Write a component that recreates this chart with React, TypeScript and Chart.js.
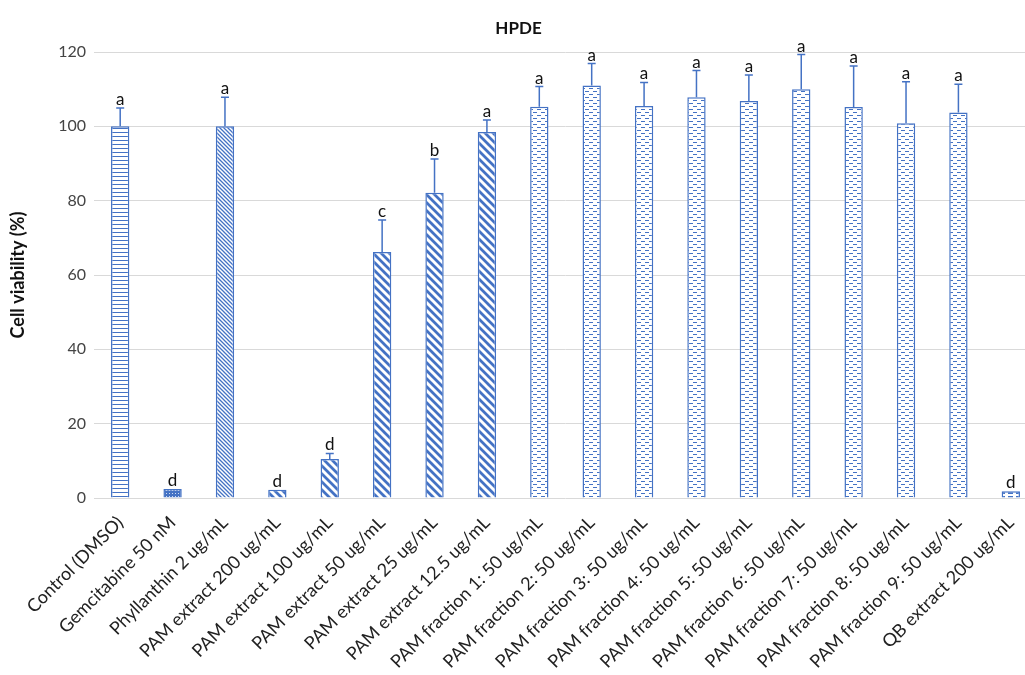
import React, { useEffect, useRef } from "react";
import { Chart, registerables } from "chart.js";

Chart.register(...registerables);

const categories = [
  "Control (DMSO)",
  "Gemcitabine 50 nM",
  "Phyllanthin 2 ug/mL",
  "PAM extract 200 ug/mL",
  "PAM extract 100 ug/mL",
  "PAM extract 50 ug/mL",
  "PAM extract 25 ug/mL",
  "PAM extract 12.5 ug/mL",
  "PAM fraction 1: 50 ug/mL",
  "PAM fraction 2: 50 ug/mL",
  "PAM fraction 3: 50 ug/mL",
  "PAM fraction 4: 50 ug/mL",
  "PAM fraction 5: 50 ug/mL",
  "PAM fraction 6: 50 ug/mL",
  "PAM fraction 7: 50 ug/mL",
  "PAM fraction 8: 50 ug/mL",
  "PAM fraction 9: 50 ug/mL",
  "QB extract 200 ug/mL",
];

const viability = [100, 2.4, 100, 2.2, 10.5, 66.2, 82.1, 98.5, 105.3, 111.0, 105.5, 107.8, 106.8, 110.0, 105.2, 100.8, 103.7, 1.8];
const errors = [4.9, 0, 7.8, 0, 1.5, 8.6, 9.1, 3.2, 5.4, 5.9, 6.3, 7.2, 7.0, 9.3, 11.0, 11.2, 7.6, 0];
const letters = ["a", "d", "a", "d", "d", "c", "b", "a", "a", "a", "a", "a", "a", "a", "a", "a", "a", "d"];
const patternKinds = [
  "hlines", "dots", "thinDiag", "wideDiag", "wideDiag", "wideDiag", "wideDiag", "wideDiag",
  "dashes", "dashes", "dashes", "dashes", "dashes", "dashes", "dashes", "dashes", "dashes", "bigDash",
];
const yTicks = [0, 20, 40, 60, 80, 100, 120];

const BLUE = "#4472C4";
const FONT = "Lato, 'Liberation Sans', sans-serif";

function makePattern(kind: string): CanvasPattern | string {
  const c = document.createElement("canvas");
  const ctx = c.getContext("2d");
  if (!ctx) return BLUE;
  if (kind === "hlines") {
    c.width = 4; c.height = 4;
    ctx.fillStyle = "#fff"; ctx.fillRect(0, 0, 4, 4);
    ctx.fillStyle = BLUE; ctx.fillRect(0, 0, 4, 1);
  } else if (kind === "dots") {
    c.width = 3; c.height = 3;
    ctx.fillStyle = BLUE; ctx.fillRect(0, 0, 3, 3);
    ctx.fillStyle = "#cfdcf2"; ctx.fillRect(1, 1, 1, 1);
  } else if (kind === "thinDiag" || kind === "wideDiag") {
    const s = kind === "thinDiag" ? 4 : 8;
    const w = kind === "thinDiag" ? 1.3 : 2.8;
    c.width = s; c.height = s;
    ctx.fillStyle = "#fff"; ctx.fillRect(0, 0, s, s);
    ctx.strokeStyle = BLUE; ctx.lineWidth = w;
    ctx.beginPath();
    ctx.moveTo(-s, -s); ctx.lineTo(2 * s, 2 * s);
    ctx.moveTo(-s, 0); ctx.lineTo(s, 2 * s);
    ctx.moveTo(0, -s); ctx.lineTo(2 * s, s);
    ctx.stroke();
  } else if (kind === "dashes") {
    c.width = 8; c.height = 6;
    ctx.fillStyle = "#fff"; ctx.fillRect(0, 0, 8, 6);
    ctx.fillStyle = BLUE;
    ctx.fillRect(1, 1, 4, 1);
    ctx.fillRect(5, 4, 3, 1);
    ctx.fillRect(0, 4, 1, 1);
  } else {
    c.width = 8; c.height = 4;
    ctx.fillStyle = "#fff"; ctx.fillRect(0, 0, 8, 4);
    ctx.fillStyle = BLUE;
    ctx.fillRect(0, 0, 5, 2);
  }
  const p = ctx.createPattern(c, "repeat");
  return p || BLUE;
}

const annotPlugin = {
  id: "errAndLetters",
  afterDatasetsDraw(chart: any) {
    const ctx = chart.ctx;
    const meta = chart.getDatasetMeta(0);
    const yScale = chart.scales.y;
    ctx.save();
    meta.data.forEach((bar: any, i: number) => {
      const x = bar.x;
      const yBar = bar.y;
      let top = yBar;
      if (errors[i] > 0) {
        top = yScale.getPixelForValue(viability[i] + errors[i]);
        ctx.strokeStyle = BLUE;
        ctx.lineWidth = 1.5;
        ctx.beginPath();
        ctx.moveTo(x, yBar);
        ctx.lineTo(x, top);
        ctx.moveTo(x - 4, top);
        ctx.lineTo(x + 4, top);
        ctx.stroke();
      }
      ctx.fillStyle = "#111";
      ctx.font = "17px " + FONT;
      ctx.textAlign = "center";
      ctx.textBaseline = "alphabetic";
      ctx.fillText(letters[i], x, top - 3);
    });
    ctx.restore();
  },
};

export default function App() {
  const ref = useRef<HTMLCanvasElement | null>(null);
  useEffect(() => {
    document.body.style.overflow = "hidden";
    const canvas = ref.current;
    if (!canvas) return;
    const patterns = patternKinds.map((k) => makePattern(k));
    const chart = new Chart(canvas, {
      type: "bar",
      data: {
        labels: categories,
        datasets: [
          {
            data: viability,
            backgroundColor: patterns as any,
            borderColor: BLUE,
            borderWidth: 1.5,
            barPercentage: 0.35,
            categoryPercentage: 1,
          },
        ],
      },
      options: {
        responsive: false,
        animation: false,
        layout: { padding: { left: 0, right: 8, top: 0, bottom: 0 } },
        plugins: {
          legend: { display: false },
          tooltip: { enabled: false },
          title: {
            display: true,
            text: "HPDE",
            color: "#111",
            font: { family: FONT, size: 17, weight: "bold" },
            padding: { top: 18, bottom: 13.6 },
          },
        },
        scales: {
          x: {
            grid: { display: false, drawTicks: false },
            border: { display: false },
            ticks: {
              minRotation: 45,
              maxRotation: 45,
              autoSkip: false,
              padding: 14,
              color: "#222",
              font: { family: FONT, size: 18 },
            },
            afterFit(scale: any) {
              scale.height = 177;
            },
          },
          y: {
            min: 0,
            max: 120,
            afterBuildTicks(scale: any) {
              scale.ticks = yTicks.map((v) => ({ value: v }));
            },
            grid: { color: "#d9d9d9", lineWidth: 1, drawTicks: false },
            border: { display: false },
            ticks: {
              padding: 8,
              color: "#444",
              font: { family: FONT, size: 16 },
            },
            title: {
              display: true,
              text: "Cell viability (%)",
              color: "#111",
              font: { family: FONT, size: 18, weight: "bold" },
              padding: { top: 7, bottom: 0 },
            },
            afterFit(scale: any) {
              scale.width = 94;
            },
          },
        },
      },
      plugins: [annotPlugin],
    });
    return () => chart.destroy();
  }, []);
  return (
    <canvas
      ref={ref}
      width={1045}
      height={675}
      style={{ position: "fixed", left: 0, top: 0, display: "block" }}
    />
  );
}
